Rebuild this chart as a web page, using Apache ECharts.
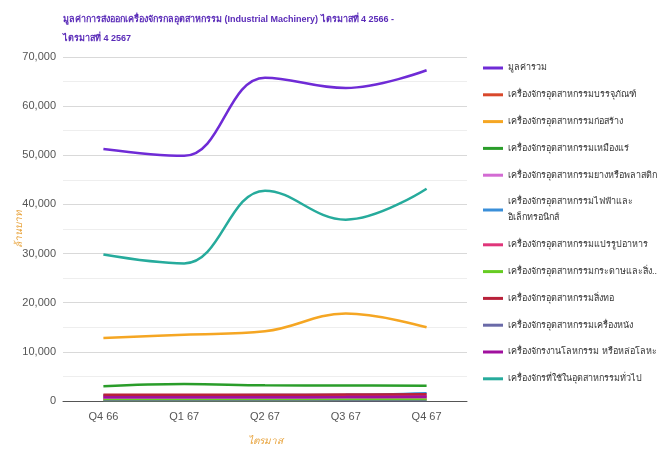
<!DOCTYPE html>
<html>
<head>
<meta charset="utf-8">
<title>Industrial Machinery</title>
<style>
  html, body { margin: 0; padding: 0; background: #fff; }
  #container { width: 657px; height: 451px; }
</style>
</head>
<body>
<div id="container"></div>
<script src="https://cdn.jsdelivr.net/npm/echarts@6/dist/echarts.min.js"></script>
<script>
// quarters (x axis)
var quarters = ['Q4 66', 'Q1 67', 'Q2 67', 'Q3 67', 'Q4 67'];

// values in million baht
var total      = [51300, 49900, 65800, 63700, 67300];
var packaging  = [350, 380, 400, 420, 450];
var construct  = [12800, 13500, 14200, 17800, 15000];
var mining     = [3000, 3450, 3200, 3150, 3100];
var plastic    = [600, 620, 650, 680, 720];
var electrical = [1150, 1180, 1200, 1250, 1600];
var food       = [900, 920, 950, 980, 1000];
var paper      = [200, 210, 220, 230, 240];
var textile    = [1250, 1250, 1250, 1300, 1350];
var leather    = [40, 40, 40, 40, 40];
var metal      = [750, 760, 780, 800, 850];
var general    = [29800, 28000, 42800, 36900, 43200];

var names = [
    'มูลค่ารวม',
    'เครื่องจักรอุตสาหกรรมบรรจุภัณฑ์',
    'เครื่องจักรอุตสาหกรรมก่อสร้าง',
    'เครื่องจักรอุตสาหกรรมเหมืองแร่',
    'เครื่องจักรอุตสาหกรรมยางหรือพลาสติก',
    'เครื่องจักรอุตสาหกรรมไฟฟ้าและอิเล็กทรอนิกส์',
    'เครื่องจักรอุตสาหกรรมแปรรูปอาหาร',
    'เครื่องจักรอุตสาหกรรมกระดาษและสิ่งพิมพ์',
    'เครื่องจักรอุตสาหกรรมสิ่งทอ',
    'เครื่องจักรอุตสาหกรรมเครื่องหนัง',
    'เครื่องจักรงานโลหกรรม หรือหล่อโลหะ',
    'เครื่องจักรที่ใช้ในอุตสาหกรรมทั่วไป'
];
var values = [total, packaging, construct, mining, plastic, electrical,
              food, paper, textile, leather, metal, general];
var colors = ['#6f2bd6', '#d9482b', '#f5a623', '#2a9d2a', '#d36bd3', '#3a8fd9',
              '#e0357a', '#66cc22', '#b8213a', '#6a6aa8', '#a0109e', '#26ab9c'];
var widths = [2.5, 2.5, 2.5, 2.5, 2.5, 2.5, 2.5, 2.5, 2.5, 1.2, 2.5, 2.5];

// how the legend shows the long names
var legendText = {
    'เครื่องจักรอุตสาหกรรมไฟฟ้าและอิเล็กทรอนิกส์': 'เครื่องจักรอุตสาหกรรมไฟฟ้าและ\nอิเล็กทรอนิกส์',
    'เครื่องจักรอุตสาหกรรมกระดาษและสิ่งพิมพ์': 'เครื่องจักรอุตสาหกรรมกระดาษและสิ่ง...'
};

var series = [];
for (var i = 0; i < names.length; i++) {
    series.push({
        name: names[i],
        type: 'line',
        data: values[i],
        smooth: 0.4,
        showSymbol: false,
        lineStyle: { color: colors[i], width: widths[i] },
        itemStyle: { color: colors[i] }
    });
}

var myChart = echarts.init(document.getElementById('container'));
var option = {
    backgroundColor: '#ffffff',
    color: colors,
    animation: false,
    title: {
        text: 'มูลค่าการส่งออกเครื่องจักรกลอุตสาหกรรม (Industrial Machinery) ไตรมาสที่ 4 2566 -\nไตรมาสที่ 4 2567',
        left: 58,
        top: 5,
        textStyle: {
            color: '#5a2bb8',
            fontSize: 9,
            fontWeight: 'bold',
            lineHeight: 19
        }
    },
    legend: {
        orient: 'vertical',
        left: 478,
        top: 55,
        icon: 'rect',
        itemWidth: 20,
        itemHeight: 3,
        itemGap: 10.8,
        data: names,
        formatter: function (name) {
            return legendText[name] || name;
        },
        textStyle: {
            color: '#333',
            fontSize: 9,
            lineHeight: 16
        }
    },
    grid: {
        left: 63,
        right: 190,
        top: 57,
        bottom: 49
    },
    xAxis: {
        type: 'category',
        data: quarters,
        boundaryGap: true,
        name: 'ไตรมาส',
        nameLocation: 'middle',
        nameGap: 35,
        nameTextStyle: { color: '#e8a33c', fontSize: 10, fontStyle: 'italic' },
        axisLine: { lineStyle: { color: '#555', width: 1 } },
        axisTick: { show: false },
        axisLabel: { color: '#555', fontSize: 11, margin: 10, fontFamily: 'Liberation Sans' }
    },
    yAxis: {
        type: 'value',
        min: 0,
        max: 70000,
        interval: 10000,
        name: 'ล้านบาท',
        nameLocation: 'middle',
        nameGap: 39,
        nameMoveOverlap: false,
        nameTextStyle: { color: '#e8a33c', fontSize: 10, fontStyle: 'italic' },
        axisLine: { show: false },
        axisTick: { show: false },
        axisLabel: {
            color: '#555',
            fontSize: 11,
            margin: 7,
            fontFamily: 'Liberation Sans',
            formatter: function (v) { return v.toLocaleString('en-US'); }
        },
        splitLine: { lineStyle: { color: '#d9d9d9' } },
        minorTick: { show: false, splitNumber: 2 },
        minorSplitLine: { show: true, lineStyle: { color: '#eeeeee' } }
    },
    series: series
};
myChart.setOption(option);
</script>
</body>
</html>
